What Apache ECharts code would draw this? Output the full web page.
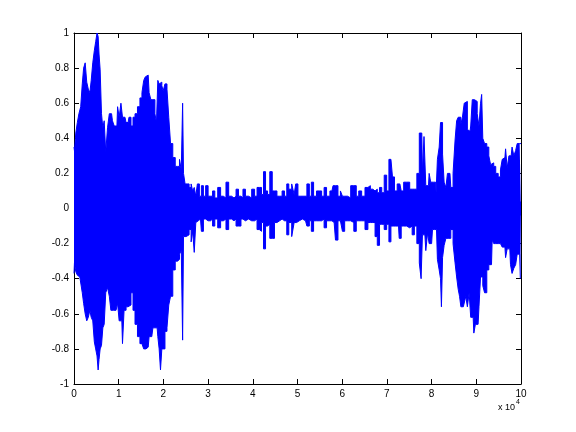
<!DOCTYPE html>
<html>
<head>
<meta charset="utf-8">
<script src="https://cdn.jsdelivr.net/npm/echarts@6/dist/echarts.min.js"></script>
<style>html,body{margin:0;padding:0;background:#fff}#c{width:576px;height:432px}</style>
</head>
<body>
<div id="c"></div>
<script>
// sample position (x 10^4) and envelope
const xs = [0.00,0.02,0.06,0.09,0.13,0.17,0.20,0.23,0.27,0.30,0.34,0.37,0.40,0.44,0.47,0.50,0.53,0.55,0.57,0.60,
0.63,0.66,0.69,0.73,0.77,0.81,0.84,0.88,0.92,0.96,0.99,1.03,1.07,1.10,1.14,1.19,1.21,1.25,1.30,1.34,
1.39,1.45,1.50,1.54,1.58,1.61,1.66,1.70,1.74,1.79,1.83,1.86,1.89,1.92,1.95,1.98,2.01,2.06,2.10,2.14,
2.18,2.24,2.29,2.34,2.38,2.42,2.44,2.46,2.51,2.55,2.60,2.64,2.67,2.71,2.74,2.78,2.83,2.87,2.92,2.97,
3.03,3.08,3.12,3.18,3.25,3.31,3.37,3.43,3.49,3.56,3.60,3.65,3.71,3.76,3.80,3.87,3.94,4.01,4.07,4.12,
4.17,4.22,4.26,4.31,4.35,4.41,4.46,4.51,4.57,4.63,4.68,4.74,4.78,4.83,4.91,4.94,4.98,5.04,5.11,5.18,
5.24,5.29,5.33,5.39,5.46,5.51,5.57,5.62,5.68,5.77,5.82,5.88,5.93,5.99,6.02,6.09,6.15,6.23,6.29,6.34,
6.40,6.47,6.55,6.60,6.66,6.71,6.76,6.81,6.86,6.91,6.97,7.02,7.07,7.11,7.14,7.20,7.26,7.29,7.35,7.40,
7.48,7.54,7.59,7.64,7.70,7.75,7.78,7.81,7.85,7.89,7.93,7.96,8.00,8.04,8.09,8.11,8.15,8.19,8.21,8.23,
8.26,8.30,8.34,8.37,8.41,8.45,8.51,8.54,8.58,8.61,8.64,8.67,8.71,8.75,8.78,8.82,8.86,8.89,8.93,8.96,
9.00,9.04,9.08,9.11,9.13,9.16,9.21,9.26,9.30,9.34,9.37,9.41,9.46,9.52,9.56,9.60,9.64,9.67,9.71,9.75,
9.78,9.82,9.86,9.90,9.93,9.97,10.00];
const upper = [0.35,0.33,0.43,0.49,0.54,0.58,0.71,0.80,0.83,0.72,0.68,0.66,0.73,0.83,0.90,0.95,1.00,0.98,0.88,0.79,
0.54,0.46,0.50,0.32,0.46,0.54,0.54,0.50,0.47,0.47,0.58,0.52,0.60,0.52,0.52,0.49,0.49,0.52,0.47,0.52,
0.54,0.58,0.63,0.66,0.73,0.75,0.76,0.66,0.62,0.62,0.54,0.49,0.73,0.71,0.72,0.70,0.67,0.71,0.68,0.52,
0.37,0.29,0.24,0.24,0.28,0.22,0.60,0.20,0.14,0.14,0.12,0.14,0.10,0.12,0.07,0.14,0.07,0.13,0.07,0.13,
0.07,0.07,0.10,0.06,0.12,0.07,0.06,0.15,0.07,0.06,0.07,0.11,0.07,0.06,0.11,0.07,0.06,0.11,0.07,0.12,
0.12,0.08,0.21,0.10,0.08,0.21,0.10,0.10,0.07,0.07,0.10,0.07,0.14,0.11,0.14,0.08,0.14,0.07,0.07,0.07,
0.14,0.07,0.15,0.07,0.10,0.10,0.07,0.12,0.07,0.10,0.13,0.13,0.07,0.10,0.07,0.07,0.06,0.13,0.13,0.07,
0.10,0.07,0.12,0.13,0.11,0.10,0.11,0.09,0.12,0.09,0.19,0.10,0.28,0.27,0.18,0.10,0.14,0.14,0.10,0.15,
0.15,0.11,0.11,0.11,0.20,0.43,0.43,0.20,0.41,0.13,0.13,0.20,0.15,0.15,0.15,0.09,0.28,0.35,0.49,0.49,
0.31,0.15,0.12,0.20,0.20,0.12,0.20,0.39,0.50,0.52,0.52,0.48,0.52,0.60,0.61,0.45,0.44,0.47,0.62,0.62,
0.61,0.54,0.47,0.60,0.65,0.40,0.37,0.35,0.30,0.25,0.26,0.24,0.20,0.18,0.22,0.28,0.29,0.34,0.23,0.30,
0.30,0.35,0.30,0.33,0.37,0.37,0.37];
const lower = [-0.37,-0.31,-0.36,-0.38,-0.39,-0.40,-0.48,-0.54,-0.60,-0.64,-0.62,-0.58,-0.62,-0.64,-0.76,-0.80,-0.84,-0.92,-0.86,-0.80,
-0.78,-0.68,-0.66,-0.48,-0.45,-0.50,-0.58,-0.58,-0.58,-0.57,-0.54,-0.64,-0.64,-0.77,-0.58,-0.56,-0.56,-0.55,-0.48,-0.58,
-0.66,-0.73,-0.77,-0.78,-0.80,-0.80,-0.79,-0.73,-0.73,-0.68,-0.68,-0.68,-0.73,-0.80,-0.92,-0.80,-0.80,-0.70,-0.68,-0.55,
-0.50,-0.35,-0.30,-0.29,-0.26,-0.24,-0.75,-0.16,-0.16,-0.15,-0.12,-0.19,-0.13,-0.25,-0.08,-0.07,-0.06,-0.13,-0.06,-0.07,
-0.07,-0.06,-0.10,-0.06,-0.11,-0.07,-0.06,-0.12,-0.06,-0.07,-0.06,-0.10,-0.10,-0.06,-0.07,-0.06,-0.07,-0.07,-0.06,-0.12,
-0.13,-0.08,-0.23,-0.10,-0.09,-0.17,-0.17,-0.08,-0.07,-0.06,-0.07,-0.07,-0.15,-0.08,-0.16,-0.08,-0.08,-0.07,-0.06,-0.07,
-0.10,-0.07,-0.13,-0.07,-0.07,-0.07,-0.06,-0.11,-0.07,-0.07,-0.08,-0.18,-0.07,-0.08,-0.13,-0.07,-0.07,-0.08,-0.13,-0.07,
-0.07,-0.07,-0.12,-0.08,-0.08,-0.08,-0.16,-0.21,-0.09,-0.09,-0.12,-0.09,-0.19,-0.10,-0.10,-0.10,-0.10,-0.17,-0.10,-0.10,
-0.11,-0.10,-0.15,-0.10,-0.20,-0.31,-0.40,-0.15,-0.15,-0.24,-0.14,-0.20,-0.20,-0.12,-0.12,-0.12,-0.29,-0.35,-0.40,-0.56,
-0.28,-0.21,-0.17,-0.17,-0.17,-0.12,-0.20,-0.31,-0.39,-0.46,-0.50,-0.56,-0.56,-0.56,-0.50,-0.56,-0.48,-0.62,-0.62,-0.71,
-0.66,-0.66,-0.56,-0.39,-0.39,-0.44,-0.48,-0.35,-0.32,-0.32,-0.18,-0.20,-0.20,-0.20,-0.20,-0.22,-0.22,-0.28,-0.23,-0.23,
-0.32,-0.37,-0.34,-0.32,-0.26,-0.26,-0.40];
const xTicks = [0,1,2,3,4,5,6,7,8,9,10];
const yTicks = [-1,-0.8,-0.6,-0.4,-0.2,0,0.2,0.4,0.6,0.8,1];

const BLUE = '#0000ff';
const FONT = 'Liberation Sans, Arial, Helvetica, sans-serif';
const chart = echarts.init(document.getElementById('c'), null, {renderer: 'canvas'});
const axLine = {show: true, onZero: false, lineStyle: {color: '#000', width: 1}};
const tick = {show: true, inside: true, length: 5, lineStyle: {color: '#000', width: 1}};
const fmt = v => String(+(+v).toFixed(1));
const up = xs.map((x, i) => [x, upper[i]]);
const lo = xs.map((x, i) => [x, lower[i]]);
chart.setOption({
  backgroundColor: '#fff',
  animation: false,
  grid: {left: 74, right: 55, top: 33, bottom: 48, containLabel: false},
  xAxis: [
    {type: 'value', min: xTicks[0], max: xTicks[xTicks.length-1], interval: 1, position: 'bottom',
     axisLine: axLine, axisTick: tick, splitLine: {show: false},
     axisLabel: {color: '#000', fontSize: 10, fontFamily: FONT, margin: 5, formatter: fmt}},
    {type: 'value', min: xTicks[0], max: xTicks[xTicks.length-1], interval: 1, position: 'top',
     axisLine: axLine, axisTick: tick, splitLine: {show: false}, axisLabel: {show: false}}
  ],
  yAxis: [
    {type: 'value', min: yTicks[0], max: yTicks[yTicks.length-1], interval: 0.2, position: 'left',
     axisLine: axLine, axisTick: tick, splitLine: {show: false},
     axisLabel: {color: '#000', fontSize: 10, fontFamily: FONT, margin: 5, formatter: fmt}},
    {type: 'value', min: yTicks[0], max: yTicks[yTicks.length-1], interval: 0.2, position: 'right',
     axisLine: axLine, axisTick: tick, splitLine: {show: false}, axisLabel: {show: false}}
  ],
  series: [
    {type: 'line', data: up, xAxisIndex: 0, yAxisIndex: 0, symbol: 'none', silent: true, step: 'middle',
     lineStyle: {color: BLUE, width: 1}, areaStyle: {color: BLUE, opacity: 1, origin: -0.04}, z: 1},
    {type: 'line', data: lo, xAxisIndex: 0, yAxisIndex: 0, symbol: 'none', silent: true, step: 'middle',
     lineStyle: {color: BLUE, width: 1}, areaStyle: {color: BLUE, opacity: 1, origin: 0.04}, z: 1}
  ],
  graphic: [{
    type: 'text', left: 498, top: 399,
    style: {
      text: '{a|x 10}{b|4}',
      rich: {
        a: {fontSize: 9, fontFamily: FONT, fill: '#000', verticalAlign: 'bottom'},
        b: {fontSize: 7, fontFamily: FONT, fill: '#000', verticalAlign: 'top', padding: [0,0,6,1]}
      }
    }
  }]
});
</script>
</body>
</html>
